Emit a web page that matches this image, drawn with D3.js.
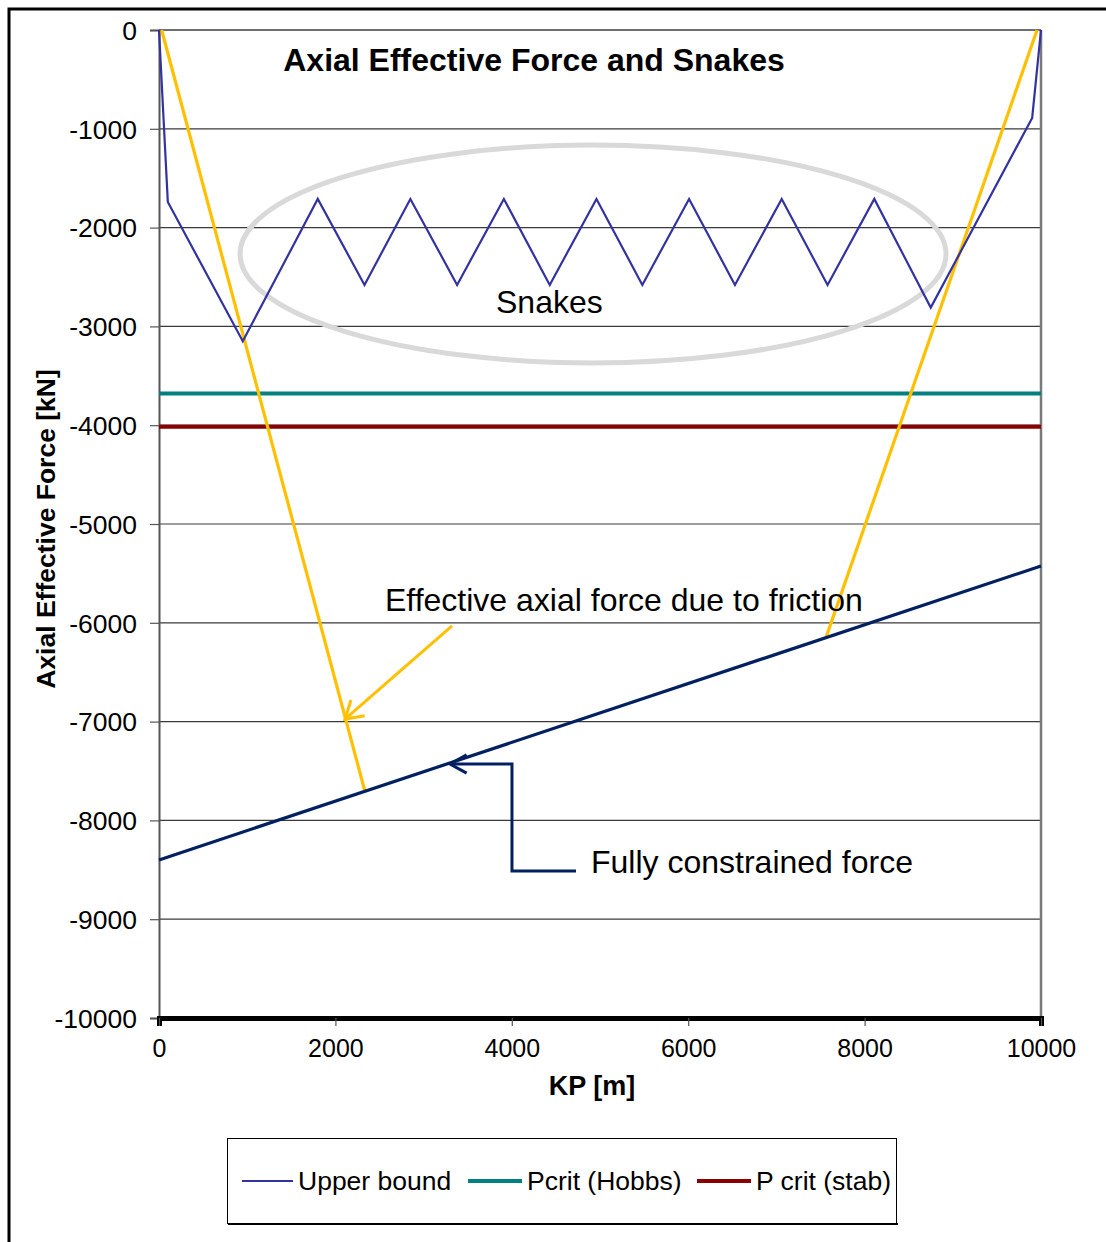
<!DOCTYPE html>
<html>
<head>
<meta charset="utf-8">
<script src="https://cdn.jsdelivr.net/npm/d3@7"></script>
<style>
  html, body { margin: 0; padding: 0; background: #fff; }
  svg { display: block; font-family: "Liberation Sans", Arial, sans-serif; }
</style>
</head>
<body>
<svg id="chart" width="1106" height="1242"></svg>
<script>
// ---------------- data ----------------
const xTicks = [0, 2000, 4000, 6000, 8000, 10000];
const yTicks = [0, -1000, -2000, -3000, -4000, -5000, -6000, -7000, -8000, -9000, -10000];

// Upper bound (snakes) profile
const upperKP    = [0, 100, 950, 1800, 2330, 2850, 3380, 3910, 4430, 4960, 5480, 6010, 6530, 7060, 7580, 8110, 8750, 9900, 10000];
const upperForce = [0, -1740, -3150, -1710, -2580, -1710, -2580, -1710, -2580, -1710, -2580, -1710, -2580, -1710, -2580, -1710, -2810, -890, 0];

// Effective axial force due to friction (two branches)
const frictionLeftKP     = [30, 2336];
const frictionLeftForce  = [0, -7710];
const frictionRightKP    = [7562, 9955];
const frictionRightForce = [-6150, 0];

// Fully constrained force
const constrainedKP    = [0, 10000];
const constrainedForce = [-8400, -5425];

// Critical buckling forces
const pcritHobbs = -3680;
const pcritStab  = -4015;

const legendLabels = ["Upper bound", "Pcrit (Hobbs)", "P crit (stab)"];

// ---------------- layout ----------------
const svg = d3.select("#chart");
const pL = 159, pR = 1041, pT = 30, pB = 1018;
const x = d3.scaleLinear().domain([0, 10000]).range([pL, pR]);
const y = d3.scaleLinear().domain([0, -10000]).range([pT, pB]);
const font = '"Liberation Sans", Arial, sans-serif';
const fmt = d => String(d);

// outer frame
svg.append("path").attr("d", "M9,1242 L9,9 L1106,9")
  .attr("fill", "none").attr("stroke", "#000").attr("stroke-width", 3);

// gridlines
svg.append("g").selectAll("line").data(yTicks.filter(d => d !== -10000)).join("line")
  .attr("x1", pL).attr("x2", pR)
  .attr("y1", d => y(d)).attr("y2", d => y(d))
  .attr("stroke", d => d === 0 ? "#6e6e6e" : "#3a3a3a")
  .attr("stroke-width", d => d === 0 ? 2 : 1.2);

// right border
svg.append("line").attr("x1", pR).attr("x2", pR).attr("y1", pT).attr("y2", pB)
  .attr("stroke", "#7a7a7a").attr("stroke-width", 2.5);

// y axis
const yAxis = d3.axisLeft(y).tickValues(yTicks).tickSize(9).tickPadding(13).tickFormat(fmt);
const gy = svg.append("g").attr("transform", `translate(${pL},0)`).call(yAxis);
gy.select(".domain").attr("stroke", "#555").attr("stroke-width", 2);
gy.selectAll(".tick line").attr("stroke", "#555").attr("stroke-width", 1.2);
gy.selectAll(".tick text").attr("font-family", font).attr("font-size", 26.5).attr("fill", "#000")
  .attr("dy", "0.35em");

// x axis
const xAxis = d3.axisBottom(x).tickValues(xTicks).tickSize(8).tickPadding(13).tickFormat(fmt);
const gx = svg.append("g").attr("transform", `translate(0,${pB})`).call(xAxis);
gx.select(".domain").attr("stroke", "#000").attr("stroke-width", 5);
gx.selectAll(".tick line").attr("stroke", "#555").attr("stroke-width", 1.2);
gx.selectAll(".tick text").attr("font-family", font).attr("font-size", 25).attr("fill", "#000");

// axis titles
svg.append("text").attr("x", 592).attr("y", 1095).attr("text-anchor", "middle")
  .attr("font-family", font).attr("font-size", 27).attr("font-weight", "bold").text("KP [m]");
svg.append("text").attr("transform", "translate(55,529) rotate(-90)").attr("text-anchor", "middle")
  .attr("font-family", font).attr("font-size", 26.5).attr("font-weight", "bold").text("Axial Effective Force [kN]");

// chart title
svg.append("text").attr("x", 534).attr("y", 71).attr("text-anchor", "middle")
  .attr("font-family", font).attr("font-size", 32).attr("font-weight", "bold").text("Axial Effective Force and Snakes");

const line = d3.line().x(d => x(d[0])).y(d => y(d[1]));
const zip = (a, b) => a.map((v, i) => [v, b[i]]);

// ellipse annotation (snakes region), in data units
const ellCx = 4921, ellCy = -2267, ellRx = 4002, ellRy = 1103;
svg.append("ellipse")
  .attr("cx", x(ellCx)).attr("cy", y(ellCy))
  .attr("rx", x(ellRx) - x(0)).attr("ry", y(-ellRy) - y(0))
  .attr("fill", "none").attr("stroke", "#d9d9d9").attr("stroke-width", 5);

// critical lines
svg.append("line").attr("x1", x(0)).attr("x2", x(10000)).attr("y1", y(pcritHobbs)).attr("y2", y(pcritHobbs))
  .attr("stroke", "#008080").attr("stroke-width", 4);
svg.append("line").attr("x1", x(0)).attr("x2", x(10000)).attr("y1", y(pcritStab)).attr("y2", y(pcritStab))
  .attr("stroke", "#8b0000").attr("stroke-width", 4);

// friction lines
svg.append("path").attr("d", line(zip(frictionLeftKP, frictionLeftForce)))
  .attr("fill", "none").attr("stroke", "#ffc000").attr("stroke-width", 3.2);
svg.append("path").attr("d", line(zip(frictionRightKP, frictionRightForce)))
  .attr("fill", "none").attr("stroke", "#ffc000").attr("stroke-width", 3.2);

// fully constrained
svg.append("path").attr("d", line(zip(constrainedKP, constrainedForce)))
  .attr("fill", "none").attr("stroke", "#002060").attr("stroke-width", 3.2);

// upper bound
svg.append("path").attr("d", line(zip(upperKP, upperForce)))
  .attr("fill", "none").attr("stroke", "#3333a0").attr("stroke-width", 2.2).attr("stroke-linejoin", "miter");

// annotation arrows
function arrowHead(tip, from, color, len, ang) {
  const a = Math.atan2(from[1] - tip[1], from[0] - tip[0]);
  const p1 = [tip[0] + len * Math.cos(a + ang), tip[1] + len * Math.sin(a + ang)];
  const p2 = [tip[0] + len * Math.cos(a - ang), tip[1] + len * Math.sin(a - ang)];
  svg.append("path").attr("d", `M${p1[0]},${p1[1]} L${tip[0]},${tip[1]} L${p2[0]},${p2[1]}`)
    .attr("fill", "none").attr("stroke", color).attr("stroke-width", 3).attr("stroke-linejoin", "miter");
}
const fArrowFrom = [x(3322), y(-6032)], fArrowTo = [x(2109), y(-6974)];
svg.append("line").attr("x1", fArrowFrom[0]).attr("y1", fArrowFrom[1]).attr("x2", fArrowTo[0]).attr("y2", fArrowTo[1])
  .attr("stroke", "#ffc000").attr("stroke-width", 3);
arrowHead(fArrowTo, fArrowFrom, "#ffc000", 20, 0.55);

const cPts = [[4728, -8512], [4002, -8512], [4002, -7429], [3299, -7429]].map(d => [x(d[0]), y(d[1])]);
svg.append("path").attr("d", d3.line()(cPts)).attr("fill", "none").attr("stroke", "#002060").attr("stroke-width", 3);
arrowHead(cPts[3], cPts[2], "#002060", 19, 0.5);

// annotation texts
svg.append("text").attr("x", 496).attr("y", 313).attr("font-family", font).attr("font-size", 32).text("Snakes");
svg.append("text").attr("x", 385).attr("y", 611).attr("font-family", font).attr("font-size", 32).text("Effective axial force due to friction");
svg.append("text").attr("x", 591).attr("y", 873).attr("font-family", font).attr("font-size", 32).text("Fully constrained force");

// legend
const lg = svg.append("g");
lg.append("rect").attr("x", 227.5).attr("y", 1138.5).attr("width", 669).attr("height", 85)
  .attr("fill", "#fff").attr("stroke", "#000").attr("stroke-width", 1);
lg.append("line").attr("x1", 228).attr("x2", 898).attr("y1", 1224).attr("y2", 1224).attr("stroke", "#000").attr("stroke-width", 2);
const legendColors = ["#3333a0", "#008080", "#8b0000"];
const legendWidths = [2.2, 4, 4];
const legendX = [242, 468, 697];
const legendLen = [51, 54, 54];
legendLabels.forEach((lab, i) => {
  lg.append("line").attr("x1", legendX[i]).attr("x2", legendX[i] + legendLen[i]).attr("y1", 1181).attr("y2", 1181)
    .attr("stroke", legendColors[i]).attr("stroke-width", legendWidths[i]);
  lg.append("text").attr("x", legendX[i] + legendLen[i] + 5).attr("y", 1190)
    .attr("font-family", font).attr("font-size", 26.5).text(lab);
});
</script>
</body>
</html>
